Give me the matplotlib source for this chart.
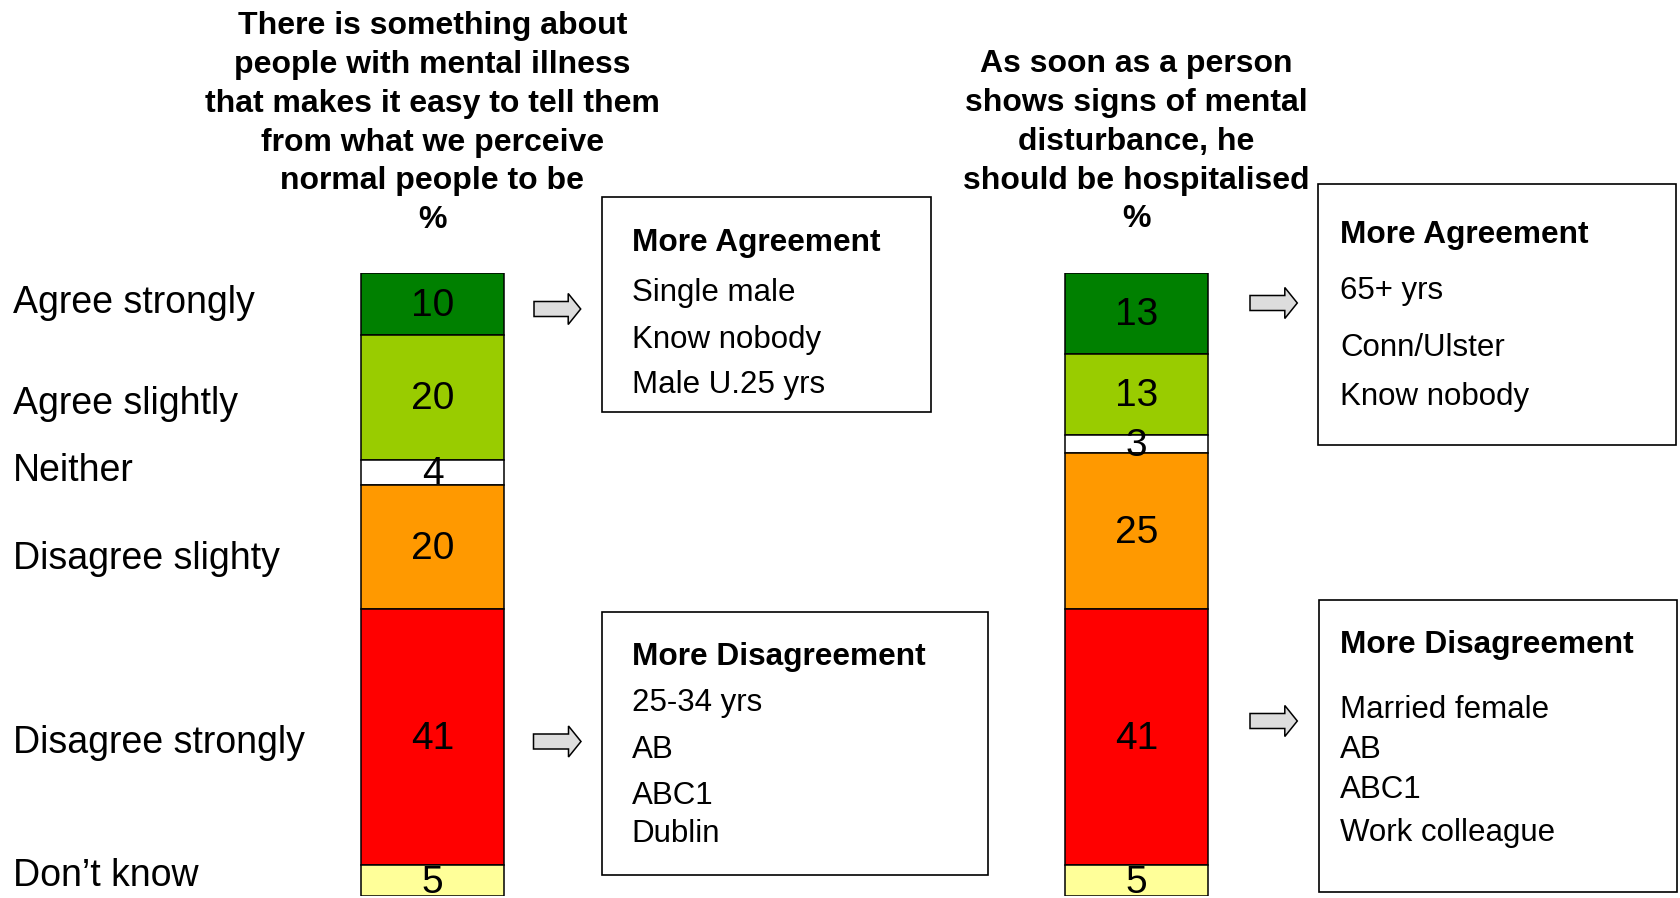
import matplotlib
matplotlib.use("Agg")
import matplotlib.pyplot as plt
from matplotlib.patches import Rectangle, Polygon
import numpy as np

# ---------------- data ----------------
categories = ["Agree strongly", "Agree slightly", "Neither", "Disagree slighty",
              "Disagree strongly", "Don\u2019t know"]
q1_values = [10, 20, 4, 20, 41, 5]
q2_values = [13, 13, 3, 25, 41, 5]
seg_colors = ["#008000", "#99CC00", "#FFFFFF", "#FF9900", "#FF0000", "#FFFF99"]

q1_title = ["There is something about", "people with mental illness",
            "that makes it easy to tell them", "from what we perceive",
            "normal people to be", "%"]
q2_title = ["As soon as a person", "shows signs of mental",
            "disturbance, he", "should be hospitalised", "%"]

q1_agree_head = "More Agreement"
q1_agree_items = ["Single male", "Know nobody", "Male U.25 yrs"]
q1_disagree_head = "More Disagreement"
q1_disagree_items = ["25-34 yrs", "AB", "ABC1", "Dublin"]
q2_agree_head = "More Agreement"
q2_agree_items = ["65+ yrs", "Conn/Ulster", "Know nobody"]
q2_disagree_head = "More Disagreement"
q2_disagree_items = ["Married female", "AB", "ABC1", "Work colleague"]

# ---------------- figure ----------------
plt.rcParams['font.family'] = ['Liberation Sans', 'DejaVu Sans']
W, H = 1680, 898
fig = plt.figure(figsize=(W / 100, H / 100), dpi=100)
fig.patch.set_facecolor("white")

# data axes (bars): y from pixel 272.7 (top) to 896 (bottom)
top_px, bot_px = 272.7, 896.0
ax = fig.add_axes([0, (H - bot_px) / H, 1, (bot_px - top_px) / H])
ax.set_zorder(1)
c1, c2 = 432.5, 1136.5
unit = c2 - c1
ax.set_xlim(-c1 / unit, (W - c1) / unit)
ax.set_ylim(100, 0)
ax.axis("off")

bar_w = 143 / unit
for xi, vals in enumerate([q1_values, q2_values]):
    starts = np.concatenate([[0], np.cumsum(vals)[:-1]])
    ax.bar([xi] * len(vals), vals, bottom=starts, width=bar_w,
           color=seg_colors, edgecolor="black", linewidth=1.1, align="center")
    for v, s in zip(vals, starts):
        ax.text(xi, s + v / 2 - 0.3, str(v), ha="center", va="center_baseline",
                fontsize=28, color="black", zorder=5)

# overlay axes in pixel coordinates for annotations
ov = fig.add_axes([0, 0, 1, 1])
ov.set_zorder(2)
ov.set_xlim(0, W)
ov.set_ylim(H, 0)
ov.axis("off")
ov.patch.set_alpha(0)

# category labels on the left
label_y = [298.7, 400.5, 467, 555, 739, 871.5]
for lab, y in zip(categories, label_y):
    ov.text(12.7, y, lab, ha="left", va="center_baseline", fontsize=27)

# titles
def title(lines, xc, last_base, step=38.8):
    n = len(lines)
    for i, ln in enumerate(lines):
        ov.text(xc, last_base - (n - 1 - i) * step, ln, ha="center",
                va="baseline", fontsize=23, fontweight="bold")

title(q1_title, c1, 228.3)
title(q2_title, c2, 227.3)

# boxes
def box(x0, y0, x1, y1, head, items, tx, ys):
    ov.add_patch(Rectangle((x0, y0), x1 - x0, y1 - y0, facecolor="white",
                           edgecolor="black", linewidth=1.2))
    ov.text(tx, ys[0], head, ha="left", va="center_baseline",
            fontsize=22.8, fontweight="bold")
    for it, y in zip(items, ys[1:]):
        ov.text(tx, y, it, ha="left", va="center_baseline", fontsize=22.5)

box(602.3, 196.7, 930.5, 412, q1_agree_head, q1_agree_items, 631.7,
    [240, 290, 336.7, 381.7])
box(601.7, 611.7, 988.3, 875, q1_disagree_head, q1_disagree_items, 631.7,
    [653, 700, 746.7, 792, 830])
box(1318.3, 184, 1676, 445, q2_agree_head, q2_agree_items, 1340,
    [231, 287, 344, 394])
box(1319, 600, 1676.7, 891.7, q2_disagree_head, q2_disagree_items, 1340,
    [641.7, 706.7, 746.7, 786.7, 830])

# arrows
def arrow(x0, x1, yc, shaft=15, head=31, head_len=12.5):
    hs, hh = shaft / 2, head / 2
    xh = x1 - head_len
    pts = [(x0, yc - hs), (xh, yc - hs), (xh, yc - hh), (x1, yc),
           (xh, yc + hh), (xh, yc + hs), (x0, yc + hs)]
    ov.add_patch(Polygon(pts, closed=True, facecolor="#DDDDDD",
                         edgecolor="black", linewidth=1.1))

arrow(534, 580.7, 309)
arrow(533.5, 581, 741.5)
arrow(1250, 1297.3, 303)
arrow(1250, 1297.3, 721)

fig.savefig("out.png", dpi=100, facecolor="white")
